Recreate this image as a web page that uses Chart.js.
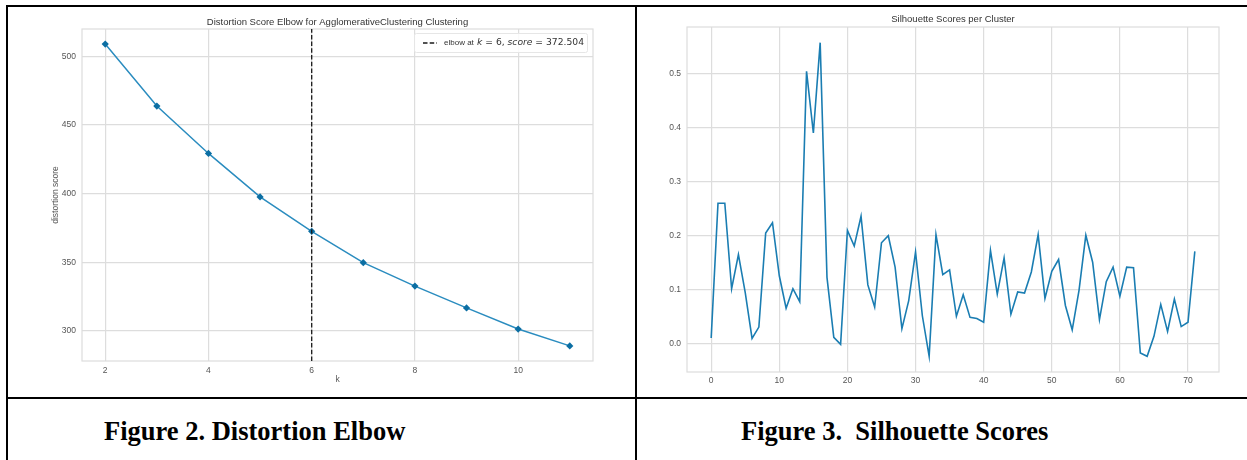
<!DOCTYPE html>
<html>
<head>
<meta charset="utf-8">
<script src="https://cdn.jsdelivr.net/npm/chart.js@4.4.1/dist/chart.umd.min.js"></script>
<style>
    body { margin: 0; background: #fff; width: 1247px; height: 460px; position: relative; overflow: hidden; }
    .rule { position: absolute; background: #000; }
    .cell { position: absolute; }
    .caption {
        position: absolute;
        font-family: "Liberation Serif", serif;
        font-weight: bold;
        font-size: 26.5px;
        line-height: 26px;
        color: #000;
        white-space: pre;
    }
</style>
</head>
<body>
<div class="rule" style="left:6px;top:5px;width:1241px;height:2px"></div>
<div class="rule" style="left:6px;top:397px;width:1241px;height:2px"></div>
<div class="rule" style="left:6px;top:5px;width:2px;height:455px"></div>
<div class="rule" style="left:635px;top:5px;width:2px;height:455px"></div>

<div class="cell" style="left:8px;top:7px"><canvas id="elbowChart" width="626" height="390"></canvas></div>
<div class="cell" style="left:637px;top:7px"><canvas id="silhouetteChart" width="610" height="390"></canvas></div>

<div class="caption" style="left:104px;top:418px">Figure 2. Distortion Elbow</div>
<div class="caption" style="left:741px;top:418px">Figure 3.  Silhouette Scores</div>

<script>
// Figure 2 data
const kValues = [2, 3, 4, 5, 6, 7, 8, 9, 10, 11];
const distortionScores = [509.0, 463.8, 429.3, 397.6, 372.504, 349.7, 332.6, 316.7, 301.3, 289.0];
const elbowK = 6;
const elbowScore = 372.504;
const kTicks = [2, 4, 6, 8, 10];
const distortionTicks = [300, 350, 400, 450, 500];

// Figure 3 data
const silhouetteScores = [
    0.011, 0.260, 0.260, 0.102, 0.165, 0.095, 0.010, 0.031, 0.205, 0.224,
    0.126, 0.066, 0.102, 0.078, 0.504, 0.390, 0.557, 0.123, 0.012, -0.001,
    0.210, 0.181, 0.236, 0.109, 0.068, 0.187, 0.200, 0.142, 0.028, 0.080,
    0.170, 0.052, -0.023, 0.202, 0.128, 0.137, 0.051, 0.091, 0.049, 0.047,
    0.040, 0.173, 0.092, 0.159, 0.055, 0.096, 0.094, 0.133, 0.202, 0.084,
    0.134, 0.156, 0.071, 0.026, 0.099, 0.201, 0.151, 0.045, 0.115, 0.142,
    0.088, 0.142, 0.141, -0.017, -0.023, 0.014, 0.073, 0.023, 0.083, 0.032,
    0.040, 0.171
];
const clusterTicks = [0, 10, 20, 30, 40, 50, 60, 70];
const silhouetteTicks = [0, 0.1, 0.2, 0.3, 0.4, 0.5];

const GRID = "#dddddd";
const TICK = "#555555";
const SANS = "'Liberation Sans', Arial, sans-serif";

// matplotlib style 5% margins around the data
function padded(values) {
    const lo = Math.min(...values), hi = Math.max(...values);
    const m = (hi - lo) * 0.05;
    return { min: lo - m, max: hi + m };
}

// title centered over the plot area + light frame round it
const plotDecor = {
    id: "plotDecor",
    beforeDatasetsDraw(chart, args, opts) {
        const { ctx, chartArea: a } = chart;
        ctx.save();
        ctx.strokeStyle = GRID;
        ctx.lineWidth = 1.2;
        ctx.strokeRect(a.left, a.top, a.right - a.left, a.bottom - a.top);
        ctx.restore();
    },
    afterDraw(chart, args, opts) {
        const { ctx, chartArea: a } = chart;
        ctx.save();
        ctx.font = "9.5px " + SANS;
        ctx.fillStyle = "#333";
        ctx.textAlign = "center";
        ctx.textBaseline = "middle";
        ctx.fillText(opts.text, (a.left + a.right) / 2, a.top - opts.gap);
        ctx.restore();
    },
};

// legend box inside the plot, top right, with mathtext style italics
const elbowLegend = {
    id: "elbowLegend",
    afterDraw(chart) {
        const { ctx, chartArea: a } = chart;
        const w = 173, h = 19;
        const x0 = a.right - 6 - w, y0 = a.top + 4;
        ctx.save();
        ctx.fillStyle = "rgba(255,255,255,0.85)";
        ctx.strokeStyle = "#e6e6e6";
        ctx.lineWidth = 1;
        ctx.beginPath();
        ctx.roundRect(x0 + 0.5, y0 + 0.5, w, h, 2);
        ctx.fill();
        ctx.stroke();

        const yMid = y0 + h / 2 + 0.5;
        ctx.setLineDash([4.5, 2.2]);
        ctx.strokeStyle = "#1a1a1a";
        ctx.lineWidth = 1.3;
        ctx.beginPath();
        ctx.moveTo(x0 + 9, yMid);
        ctx.lineTo(x0 + 23, yMid);
        ctx.stroke();
        ctx.setLineDash([]);

        ctx.textBaseline = "middle";
        ctx.fillStyle = "#333";
        ctx.font = "8px " + SANS;
        ctx.fillText("elbow at", x0 + 30, yMid);
        let x = x0 + 30 + ctx.measureText("elbow at ").width + 1;
        const segments = [
            ["k", "italic 9.2px 'DejaVu Sans'"],
            [" = " + elbowK + ", ", "9.2px 'DejaVu Sans'"],
            ["score", "italic 9.2px 'DejaVu Sans'"],
            [" = " + elbowScore.toFixed(3), "9.2px 'DejaVu Sans'"],
        ];
        segments.forEach(([t, font]) => {
            ctx.font = font;
            ctx.fillText(t, x, yMid);
            x += ctx.measureText(t).width;
        });
        ctx.restore();
    },
};

function axisBase(range, ticks, fmt, padding) {
    return {
        type: "linear",
        min: range.min,
        max: range.max,
        afterBuildTicks: (s) => { s.ticks = ticks.map((v) => ({ value: v })); },
        grid: { color: GRID, lineWidth: 1.2, drawTicks: false },
        border: { display: false },
        ticks: {
            autoSkip: false,
            maxRotation: 0,
            padding: padding,
            color: TICK,
            font: { family: SANS, size: 8.5 },
            callback: fmt,
        },
    };
}

const kRange = padded(kValues);
const distRange = padded(distortionScores);

new Chart(document.getElementById("elbowChart"), {
    type: "line",
    data: {
        datasets: [
            {
                label: "elbow",
                data: [
                    { x: elbowK, y: distRange.min },
                    { x: elbowK, y: distRange.max },
                ],
                borderColor: "#1a1a1a",
                borderWidth: 1.3,
                borderDash: [4.5, 2.2],
                pointRadius: 0,
            },
            {
                label: "distortion score",
                data: kValues.map((k, i) => ({ x: k, y: distortionScores[i] })),
                borderColor: "#2a8cbf",
                borderWidth: 1.5,
                pointStyle: "rectRot",
                pointRadius: 3.6,
                pointBorderWidth: 0,
                pointBackgroundColor: "#0b6ea3",
                tension: 0,
            },
        ],
    },
    options: {
        responsive: false,
        animation: false,
        layout: { padding: { left: 40, top: 22, right: 41, bottom: 0 } },
        plugins: {
            legend: { display: false },
            tooltip: { enabled: false },
            plotDecor: { text: "Distortion Score Elbow for AgglomerativeClustering Clustering", gap: 6.5 },
        },
        scales: {
            x: {
                ...axisBase(kRange, kTicks, (v) => String(v), 4.5),
                afterFit: (s) => { s.height = 36; },
                title: {
                    display: true,
                    text: "k",
                    color: TICK,
                    font: { family: SANS, size: 8.5 },
                    padding: { top: 0, bottom: 12 },
                },
            },
            y: {
                ...axisBase(distRange, distortionTicks, (v) => String(v), 6),
                afterFit: (s) => { s.width = 34; },
                title: {
                    display: true,
                    text: "distortion score",
                    color: TICK,
                    font: { family: SANS, size: 8.5 },
                    padding: { top: 3, bottom: 0 },
                },
            },
        },
    },
    plugins: [plotDecor, elbowLegend],
});

const clusterIds = silhouetteScores.map((_, i) => i);
const clusterRange = padded(clusterIds);
const silRange = padded(silhouetteScores);

new Chart(document.getElementById("silhouetteChart"), {
    type: "line",
    data: {
        datasets: [
            {
                label: "silhouette",
                data: clusterIds.map((c, i) => ({ x: c, y: silhouetteScores[i] })),
                borderColor: "#1a7db2",
                borderWidth: 1.6,
                pointRadius: 0,
                tension: 0,
            },
        ],
    },
    options: {
        responsive: false,
        animation: false,
        layout: { padding: { left: 0, top: 20, right: 28, bottom: 0 } },
        plugins: {
            legend: { display: false },
            tooltip: { enabled: false },
            plotDecor: { text: "Silhouette Scores per Cluster", gap: 8 },
        },
        scales: {
            x: {
                ...axisBase(clusterRange, clusterTicks, (v) => String(v), 4),
                afterFit: (s) => { s.height = 25; },
            },
            y: {
                ...axisBase(silRange, silhouetteTicks, (v) => v.toFixed(1), 6),
                afterFit: (s) => { s.width = 50; },
            },
        },
    },
    plugins: [plotDecor],
});
</script>
</body>
</html>
